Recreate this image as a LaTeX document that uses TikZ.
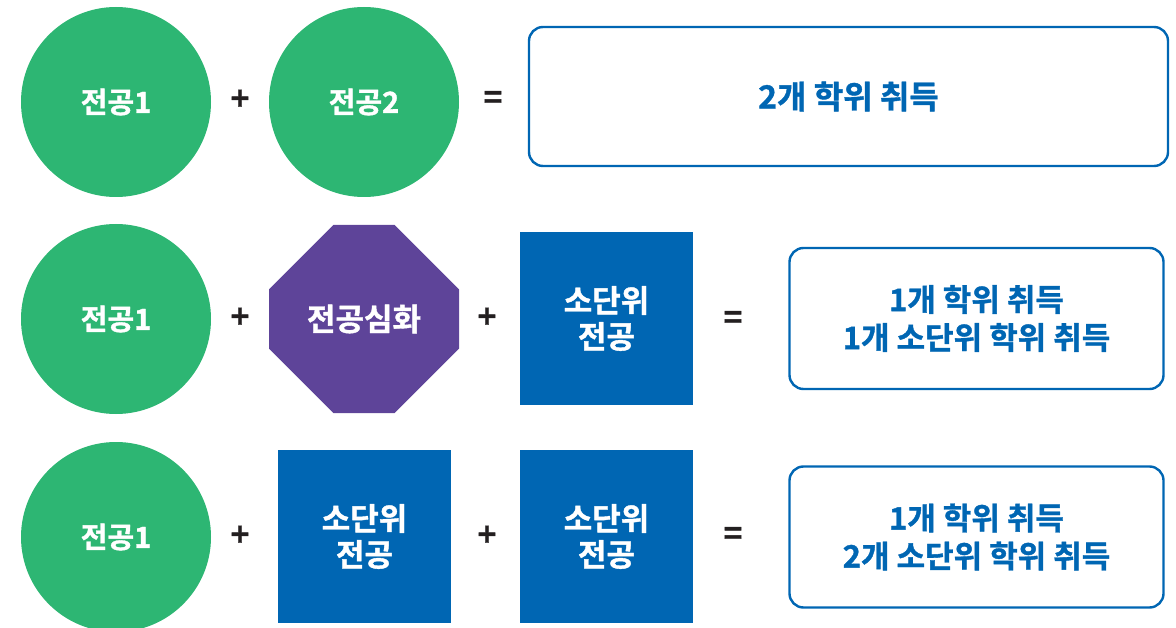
\documentclass[tikz,border=0pt]{standalone}
\usepackage{fontspec}
\setmainfont{Noto Sans CJK KR}[BoldFont={* Bold}, BoldFeatures={FakeBold=1.2}]
\usetikzlibrary{shapes.misc}

\definecolor{majorgreen}{HTML}{2DB673}
\definecolor{deeppurple}{HTML}{5E4499}
\definecolor{minorblue}{HTML}{0066B3}
\definecolor{opdark}{HTML}{231F20}

\newcommand{\kfont}{\bfseries\fontsize{29}{36}\selectfont}
\newcommand{\rfont}{\bfseries\fontsize{31}{38}\selectfont}

\begin{document}
\begin{tikzpicture}[
  x={(1pt,0pt)},
  y={(0pt,-1pt)},
  major/.style={circle, fill=majorgreen, minimum size=190pt, inner sep=0pt,
    text=white, font=\kfont},
  deepen/.style={chamfered rectangle, chamfered rectangle xsep=46pt,
    chamfered rectangle ysep=50pt, fill=deeppurple, minimum width=190pt,
    minimum height=188pt, inner sep=0pt, text=white, font=\rfont},
  minor/.style={rectangle, fill=minorblue, minimum size=173pt, inner sep=0pt,
    text=white, align=center, font=\bfseries\fontsize{31}{36}\selectfont},
  result/.style={rectangle, draw=minorblue, line width=2.4pt, rounded corners=14pt,
    text=minorblue, align=center, inner sep=0pt, font=\rfont},
  op/.style={text=opdark, inner sep=0pt, font=\bfseries\fontsize{32}{32}\selectfont}
]

\useasboundingbox (0,0) rectangle (1176,628);

% ---------- row 1 ----------
\node[major] (m11) at (116,102) {전공1};
\node[op] (p11) at (240,100) {+};
\node[major] (m12) at (364,102) {전공2};
\node[op] (e1) at (493,100) {=};
\node[result, minimum width=639pt, minimum height=139pt] (r1) at (848.5,96.5)
  {\fontsize{32}{38}\selectfont 2개 학위 취득};

% ---------- row 2 ----------
\node[major] (m21) at (116,319) {전공1};
\node[op] (p21) at (240,318) {+};
\node[deepen] (d2) at (364,319) {전공심화};
\node[op] (p22) at (487,318) {+};
\node[minor] (s2) at (606.5,318.5) {소단위\\전공};
\node[op] (e2) at (733,320) {=};
\node[result, minimum width=374pt, minimum height=141pt] (r2) at (976.5,318.5)
  {1개 학위 취득\\1개 소단위 학위 취득};

% ---------- row 3 ----------
\node[major] (m31) at (116,537) {전공1};
\node[op] (p31) at (240,536) {+};
\node[minor] (s31) at (364.5,536.5) {소단위\\전공};
\node[op] (p32) at (487,536) {+};
\node[minor] (s32) at (606.5,536.5) {소단위\\전공};
\node[op] (e3) at (733,536) {=};
\node[result, minimum width=374pt, minimum height=141pt] (r3) at (976.5,537)
  {1개 학위 취득\\2개 소단위 학위 취득};

\end{tikzpicture}
\end{document}
